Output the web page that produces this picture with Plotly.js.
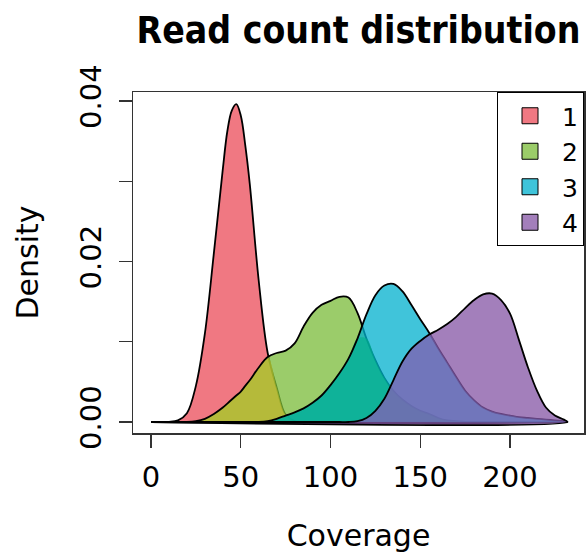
<!DOCTYPE html>
<html><head><meta charset="utf-8">
<script src="https://cdn.plot.ly/plotly-3.0.1.min.js"></script>
<style>html,body{margin:0;padding:0;background:#fff}#chart{width:586px;height:553px}</style>
</head><body><div id="chart"></div>
<script>
// Coverage grid (x) and the four read-count density curves
const coverage = [0,5,10,15,20,25,30,35,40,42.5,45,47.5,50,52.5,55,60,65,70,75,80,85,90,95,100,105,110,115,120,125,130,135,140,145,150,155,160,165,170,175,180,185,190,195,200,205,210,215,220,225,230,232];
const density1 = [0,0,0.00002,0.0002,0.0011,0.0045,0.0110,0.0210,0.0315,0.0362,0.0388,0.0396,0.0382,0.0345,0.0297,0.0176,0.0086,0.0043,0.0009,0.0001,0.00002,0,0,0,0,0,0,0,0,0,0,0,0,0,0,0,0,0,0,0,0,0,0,0,0,0,0,0,0,0,0];
const density2 = [0,0,0,0,0,0.0001,0.0004,0.0010,0.0018,0.0023,0.0028,0.0033,0.0038,0.0045,0.0052,0.0068,0.0081,0.0086,0.0089,0.0098,0.0119,0.0136,0.0146,0.0151,0.0156,0.0155,0.0136,0.0104,0.0077,0.0055,0.0039,0.0028,0.0020,0.0014,0.0010,0.0005,0.0002,0.0001,0,0,0,0,0,0,0,0,0,0,0,0,0];
const density3 = [0,0,0,0,0,0,0,0,0,0,0,0,0,0,0,0,0.0001,0.0004,0.0008,0.0012,0.0017,0.0024,0.0033,0.0046,0.0061,0.0079,0.0104,0.0134,0.0158,0.0170,0.0172,0.0163,0.0146,0.0128,0.0111,0.0092,0.0074,0.0056,0.0039,0.0027,0.0018,0.0013,0.0010,0.0008,0.0006,0.0005,0.0004,0.0003,0.0002,0.0001,0];
const density4 = [0,0,0,0,0,0,0,0,0,0,0,0,0,0,0,0,0,0,0,0,0,0,0,0,0,0,0.0001,0.0005,0.0014,0.0029,0.0052,0.0075,0.0091,0.0101,0.0109,0.0115,0.0122,0.0131,0.0142,0.0152,0.0159,0.0160,0.0152,0.0135,0.0102,0.0068,0.0039,0.0018,0.0008,0.0003,0];
const seriesNames = ['1','2','3','4'];
const xTickVals = [0,50,100,150,200];
const xTickText = ['0','50','100','150','200'];
const yTickVals = [0,0.01,0.02,0.03,0.04];
const yTickText = ['0.00','','0.02','','0.04'];

const series = [density1, density2, density3, density4];
const fillColors = ['rgba(235,75,88,0.75)','rgba(122,187,56,0.75)','rgba(0,176,206,0.75)','rgba(132,84,164,0.75)'];
const overlapColors = [null,'rgba(212,202,42,0.5)','rgba(0,175,135,0.6)','rgba(110,132,209,0.3)'];
const keyColors = ['#F07882','#9BCC69','#3FC4DA','#A37FBB'];

const traces = [];
const closedX = coverage.concat([coverage[0]]);
series.forEach((ys, i) => {
  const closedY = ys.concat([ys[0]]);
  traces.push({x: closedX, y: closedY, type:'scatter', mode:'lines', fill:'toself', fillcolor: fillColors[i],
    line:{width:0, shape:'spline', smoothing:1}, showlegend:false, hoverinfo:'skip'});
  if (i > 0) {
    const prev = series[i-1];
    const m = ys.map((v,k) => Math.min(v, prev[k]));
    traces.push({x: coverage, y: m, type:'scatter', mode:'lines', fill:'tozeroy', fillcolor: overlapColors[i],
      line:{width:0, shape:'spline', smoothing:1}, showlegend:false, hoverinfo:'skip'});
  }
  traces.push({x: closedX, y: closedY, type:'scatter', mode:'lines',
    line:{color:'#000', width:1.8, shape:'spline', smoothing:1}, showlegend:false, hoverinfo:'skip'});
});
seriesNames.forEach((nm, i) => {
  traces.push({x:[null], y:[null], type:'scatter', mode:'markers', name: nm,
    marker:{symbol:'square', size:16, color: keyColors[i], line:{color:'#000', width:1}}});
});

const layout = {
  width:586, height:553,
  margin:{l:133, r:2, t:92, b:120, pad:0},
  paper_bgcolor:'#fff', plot_bgcolor:'#fff',
  font:{family:'DejaVu Sans', color:'#000'},
  title:{text:'<b>Read count distribution</b>', font:{family:'DejaVu Sans Condensed, DejaVu Sans', size:37, color:'#000'},
    x:0.5, xref:'paper', xanchor:'center', y:1-30/553, yref:'container', yanchor:'middle'},
  xaxis:{range:[-10.03, 241.2], tickmode:'array', tickvals:xTickVals, ticktext:xTickText,
    ticks:'outside', ticklen:13, tickwidth:1.2, tickcolor:'#333', ticklabelstandoff:5,
    showline:true, mirror:true, linecolor:'#333', linewidth:1.5, showgrid:false, zeroline:false,
    tickfont:{size:29}, title:{text:'Coverage', font:{size:30}, standoff:32}},
  yaxis:{range:[-0.00137, 0.04112], tickmode:'array', tickvals:yTickVals, ticktext:yTickText, tickangle:-90,
    ticks:'outside', ticklen:13, tickwidth:1.2, tickcolor:'#333', ticklabelstandoff:6,
    showline:true, mirror:true, linecolor:'#333', linewidth:1.5, showgrid:false, zeroline:false,
    tickfont:{size:29}, title:{text:'Density', font:{size:30}, standoff:26}},
  legend:{x:1, y:1, xanchor:'right', yanchor:'top', bordercolor:'#000', borderwidth:1, bgcolor:'#fff',
    font:{size:25}, itemsizing:'trace', itemwidth:54},
  showlegend:true
};
Plotly.newPlot('chart', traces, layout, {staticPlot:true, displayModeBar:false});
</script>
</body></html>
